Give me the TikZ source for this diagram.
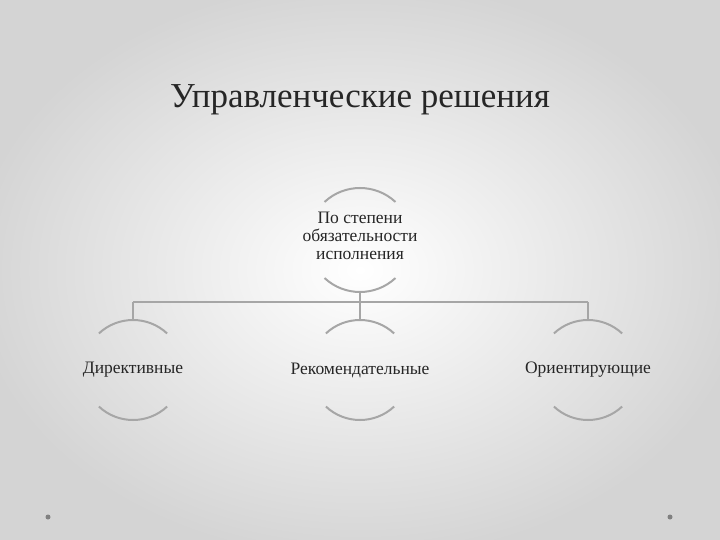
\documentclass[tikz,border=0pt]{standalone}
\usepackage{fontspec}
\setmainfont{Liberation Serif}
\definecolor{ln}{HTML}{A6A6A6}
\definecolor{bgc}{HTML}{D4D4D4}
\begin{document}
\begin{tikzpicture}[x=1pt,y=-1pt,
  arcline/.style={draw=ln,line width=2pt},
  lbl/.style={font=\fontsize{17.5}{18}\selectfont,align=center,text=black!85},
  conn/.style={draw=ln,line width=1.5pt}]
\useasboundingbox (0,0) rectangle (720,540);
\shade[inner color=white,outer color=bgc] (-30,-20) rectangle (750,560);
\node[font=\fontsize{35}{40}\selectfont,text=black!85] (title) at (360,100) {Управленческие решения};
\foreach \cx/\cy/\r in {360/240/52, 133/370/50, 360/370/50, 588/370/50}{
  \draw[arcline] (\cx,\cy) ++(-133:\r) arc[start angle=-133,end angle=-47,radius=\r];
  \draw[arcline] (\cx,\cy) ++(133:\r) arc[start angle=133,end angle=47,radius=\r];
}
\node[lbl] (n0) at (360,236) {По степени\\обязательности\\исполнения};
\node[lbl] (n1) at (133,370) {Директивные};
\node[lbl] (n2) at (360,370) {Рекомендательные};
\node[lbl] (n3) at (588,370) {Ориентирующие};
\coordinate (t0) at (360,292);
\coordinate (j1) at (133,302);
\coordinate (j3) at (588,302);
\coordinate (t1) at (133,320);
\coordinate (t2) at (360,320);
\coordinate (t3) at (588,320);
\draw[conn] (t0) -- (t2);
\draw[conn] (j1) -- (j3);
\draw[conn] (j1) -- (t1);
\draw[conn] (j3) -- (t3);
\fill[gray] (48,517) circle (2.5);
\fill[gray] (670,517) circle (2.5);
\end{tikzpicture}
\end{document}
